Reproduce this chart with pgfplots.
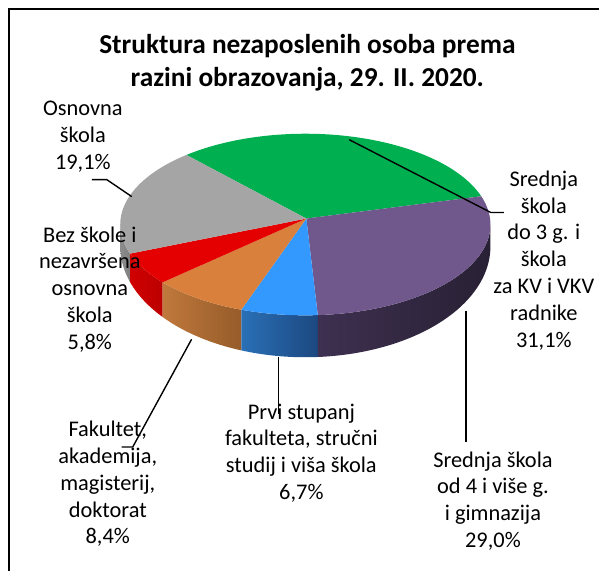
\documentclass[border=0pt]{standalone}
\usepackage{pgfplots}
\pgfplotsset{compat=1.18}
\usepackage{pgfplotstable}
\usepackage{fontspec}
\setmainfont{Carlito}

\definecolor{cGreen}{RGB}{0,176,80}
\definecolor{cPurple}{RGB}{112,88,140}
\definecolor{cBlue}{RGB}{51,153,255}
\definecolor{cOrange}{RGB}{217,128,60}
\definecolor{cRed}{RGB}{228,0,0}
\definecolor{cGrey}{RGB}{165,165,165}
\definecolor{sPurpleL}{RGB}{62,48,80}
\definecolor{sPurpleR}{RGB}{40,32,52}
\definecolor{sBlueL}{RGB}{42,112,182}
\definecolor{sBlueR}{RGB}{28,72,128}
\definecolor{sOrangeL}{RGB}{192,120,60}
\definecolor{sOrangeR}{RGB}{150,92,42}
\definecolor{sRedL}{RGB}{208,0,0}
\definecolor{sRedR}{RGB}{188,0,0}
\definecolor{sGreyL}{RGB}{140,140,140}
\definecolor{sGreyR}{RGB}{128,128,128}

% shares in percent, in clockwise order starting from the green slice
\pgfplotstableread{
slice share
1 31.1
2 29.0
3 6.7
4 8.4
5 5.8
6 19.1
}\piedata

% geometry (picture units = pixels of the reference)
\def\cx{306}\def\cy{225}\def\rx{185.5}\def\ry{91}
\def\cyb{247}\def\ryb{111}
\def\tx{307}\def\ty{219}

\newcommand\topslice[3]{%
  \addplot[fill=#1, draw=none, domain=0:1, samples=60]
    ({\cx+\rx*cos(#2+x*(#3-#2))},{\cy-\ry*sin(#2+x*(#3-#2))})
    -- (axis cs:\tx,\ty) -- cycle;
}
\newcommand\sideslice[4]{%
  \addplot[left color=#1, right color=#2, draw=none, domain=0:2, samples=121]
    ({\cx+\rx*cos((x<1.0001) ? (#3+min(1,x/0.95)*(#4-#3)) : (#4-max(0,min(1,(x-1.05)/0.9))*(#4-#3)))},
     {(x<1.0001) ? (\cy-\ry*sin(#3+min(1,x/0.95)*(#4-#3))) : (\cyb-\ryb*sin(#4-max(0,min(1,(x-1.05)/0.9))*(#4-#3)))})
    -- cycle;
}

\begin{document}
\begin{tikzpicture}
\pgfplotstablegetelem{0}{share}\of\piedata \edef\vA{\pgfplotsretval}
\pgfplotstablegetelem{1}{share}\of\piedata \edef\vB{\pgfplotsretval}
\pgfplotstablegetelem{2}{share}\of\piedata \edef\vC{\pgfplotsretval}
\pgfplotstablegetelem{3}{share}\of\piedata \edef\vD{\pgfplotsretval}
\pgfplotstablegetelem{4}{share}\of\piedata \edef\vE{\pgfplotsretval}
\pgfplotstablegetelem{5}{share}\of\piedata \edef\vF{\pgfplotsretval}
\pgfmathsetmacro\tot{\vA+\vB+\vC+\vD+\vE+\vF}
\pgfmathsetmacro\aS{130}
\pgfmathsetmacro\aA{\aS-360*\vA/\tot}
\pgfmathsetmacro\aB{\aA-360*\vB/\tot}
\pgfmathsetmacro\aC{\aB-360*\vC/\tot}
\pgfmathsetmacro\aD{\aC-360*\vD/\tot}
\pgfmathsetmacro\aE{\aD-360*\vE/\tot}
\pgfmathsetmacro\aF{\aE-360*\vF/\tot}
\begin{axis}[
  width=600bp, height=572bp, scale only axis,
  xmin=0, xmax=600, ymin=0, ymax=572, y dir=reverse,
  hide axis, clip=false,
]
\path (axis cs:0,0) rectangle (axis cs:600,572);
% sides
\sideslice{sGreyL}{sGreyR}{-180}{\aE}
\sideslice{sRedL}{sRedR}{\aE}{\aD}
\sideslice{sOrangeL}{sOrangeR}{\aD}{\aC}
\sideslice{sBlueL}{sBlueR}{\aC}{\aB}
\sideslice{sPurpleL}{sPurpleR}{\aB}{0}
% tops
\topslice{cGreen}{\aS}{\aA}
\topslice{cPurple}{\aA}{\aB}
\topslice{cBlue}{\aB}{\aC}
\topslice{cOrange}{\aC}{\aD}
\topslice{cRed}{\aD}{\aE}
\topslice{cGrey}{\aE}{\aF}

% leader lines
\addplot[black, line width=1.4pt] coordinates {(92,180) (107,180) (132,197)};
\addplot[black, line width=1.4pt] coordinates {(350,140) (492,213) (505,213)};
\addplot[black, line width=1.4pt] coordinates {(467,312) (467,443)};
\addplot[black, line width=1.4pt] coordinates {(279,358) (279,415)};
\addplot[black, line width=1.4pt] coordinates {(192,340) (133,448) (122,448)};

% frame
\addplot[black, line width=2.6pt] coordinates {(9,572) (9,9) (600,9)};

% title
\node[align=center, font=\bfseries\fontsize{27.5}{33}\selectfont] at (axis cs:308,63) {Struktura nezaposlenih osoba prema\\razini obrazovanja, 29. II. 2020.};

% labels
\tikzset{lab/.style={align=center, font=\fontsize{22.5}{27}\selectfont, inner sep=0pt}}
\node[lab] at (axis cs:83,137) {Osnovna\\škola\\19,1\%};
\node[lab] at (axis cs:90,290) {Bez škole i\\nezavršena\\osnovna\\škola\\5,8\%};
\node[lab] at (axis cs:545,261) {Srednja\\škola\\do 3 g. i\\škola\\za KV i VKV\\radnike\\31,1\%};
\node[lab] at (axis cs:302,454) {Prvi stupanj\\fakulteta, stručni\\studij i viša škola\\6,7\%};
\node[lab] at (axis cs:108,485) {Fakultet,\\akademija,\\magisterij,\\doktorat\\8,4\%};
\node[lab] at (axis cs:494,502) {Srednja škola\\od 4 i više g.\\i gimnazija\\29,0\%};
\end{axis}
\end{tikzpicture}
\end{document}
